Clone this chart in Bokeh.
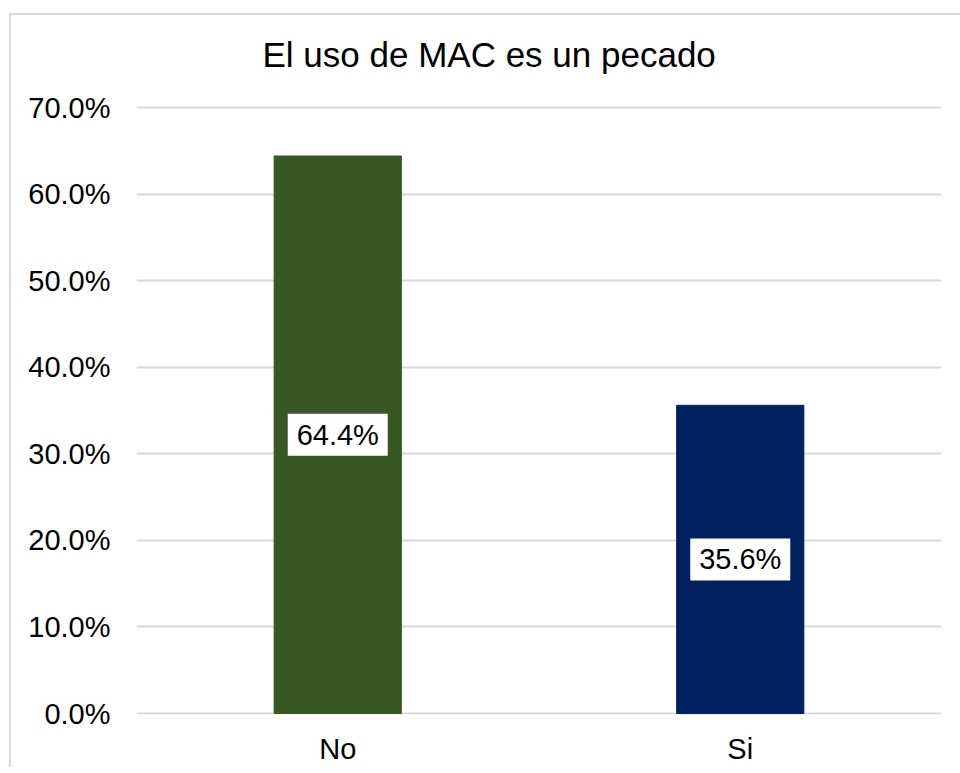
from bokeh.plotting import figure
from bokeh.models import Range1d, FactorRange, NumeralTickFormatter, FixedTicker, ColumnDataSource, InlineStyleSheet
from bokeh.core.properties import value
from bokeh.embed import file_html
from bokeh.resources import INLINE

categories = ["No", "Si"]
values = [0.644, 0.356]
labels = ["64.4%", "35.6%"]
colors = ["#385723", "#002060"]
y_ticks = [0.0, 0.1, 0.2, 0.3, 0.4, 0.5, 0.6, 0.7]
title_text = "El uso de MAC es un pecado"

FONT = "Liberation Sans"

src = ColumnDataSource(dict(
    cat=categories,
    val=values,
    mid=[v / 2 for v in values],
    lab=labels,
    col=colors,
))

pad = 0.7 / 606.0
p = figure(
    x_range=FactorRange(*categories, range_padding=0),
    y_range=Range1d(-pad, 0.7 + pad),
    frame_width=805, frame_height=608,
    min_border_left=136, min_border_right=19, min_border_top=106, min_border_bottom=40,
    output_backend="svg", toolbar_location=None,
    title=title_text,
)
p.background_fill_color = "white"
p.border_fill_color = None
p.outline_line_color = None

p.title.text_font = FONT
p.title.text_font_size = "35px"
p.title.text_font_style = "normal"
p.title.text_color = "#000000"
p.title.align = "left"
p.title.vertical_align = "middle"
p.title.offset = 126
p.title.standoff = 64

p.vbar(x="cat", top="val", width=0.316, color="col", source=src)
p.rect(x="cat", y="mid", width=100, height=42, width_units="screen", height_units="screen",
       fill_color="white", line_color=None, source=src)
p.text(x="cat", y="mid", text="lab", text_align="center", text_baseline="middle",
       text_font=value(FONT), text_font_size="29px", text_color="#000000", source=src)

# axes
p.yaxis.ticker = FixedTicker(ticks=y_ticks)
p.yaxis.formatter = NumeralTickFormatter(format="0.0%")
for ax in (p.xaxis[0], p.yaxis[0]):
    ax.axis_line_color = None
    ax.major_tick_line_color = None
    ax.minor_tick_line_color = None
    ax.major_tick_out = 0
    ax.major_tick_in = 0
    ax.major_label_text_font = FONT
    ax.major_label_text_font_size = "29px"
    ax.major_label_text_color = "#000000"
p.yaxis.major_label_standoff = 26
p.xaxis.major_label_standoff = 18

p.xgrid.grid_line_color = None
p.ygrid.grid_line_color = "#d9d9d9"
p.ygrid.grid_line_width = 2

# outer chart border (only left and top edges are visible in the reference)
p.stylesheets = [InlineStyleSheet(css="""
:host {
  background:
    linear-gradient(#d9d9d9, #d9d9d9) 9px 13px / 2px 100% no-repeat,
    linear-gradient(#d9d9d9, #d9d9d9) 9px 13px / 100% 2px no-repeat,
    #ffffff;
}
""")]

open("out.html", "w").write(file_html(p, INLINE))
